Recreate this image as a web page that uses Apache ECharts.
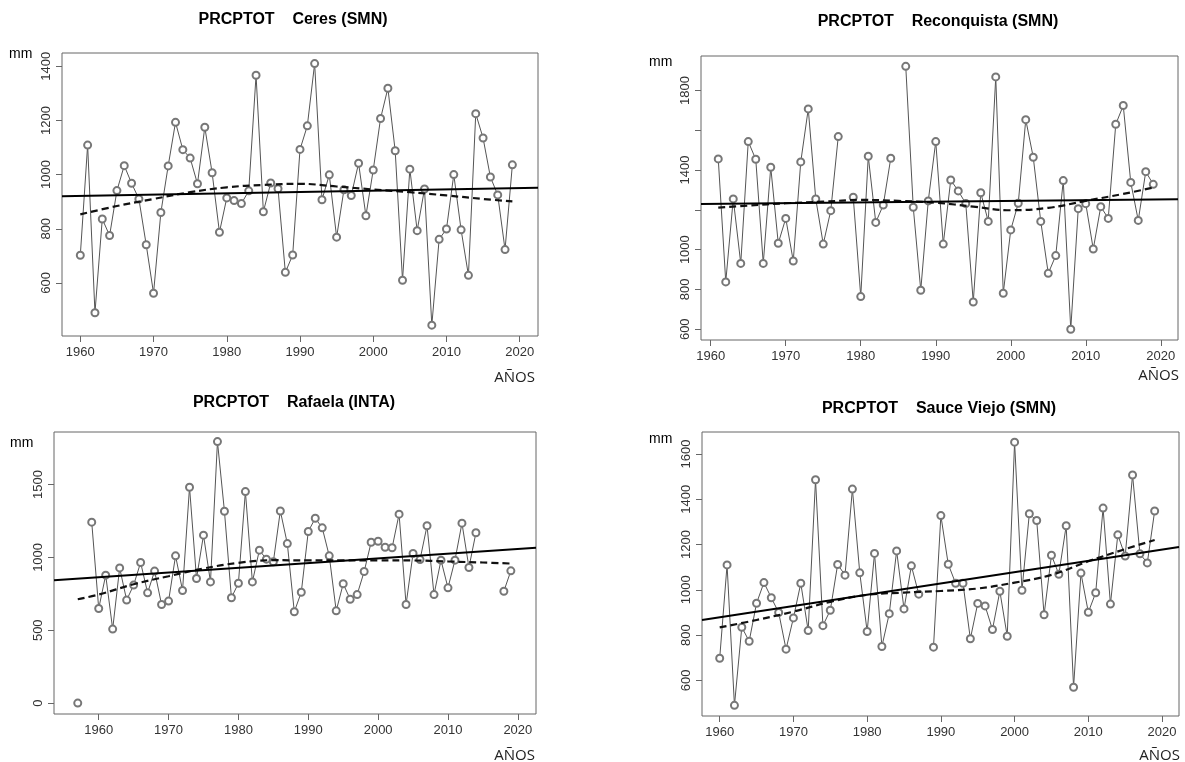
<!DOCTYPE html>
<html><head><meta charset="utf-8">
<script src="https://cdn.jsdelivr.net/npm/echarts@6/dist/echarts.min.js"></script>
<style>html,body{margin:0;padding:0;background:#fff}#c{width:1185px;height:762px}</style>
</head><body><div id="c"></div>
<script>
// ---------- DATA ----------
const xTicks = [1960, 1970, 1980, 1990, 2000, 2010, 2020];

// Ceres (SMN)
const ceresYears = [1960,1961,1962,1963,1964,1965,1966,1967,1968,1969,1970,1971,1972,1973,1974,1975,1976,1977,1978,1979,1980,1981,1982,1983,1984,1985,1986,1987,1988,1989,1990,1991,1992,1993,1994,1995,1996,1997,1998,1999,2000,2001,2002,2003,2004,2005,2006,2007,2008,2009,2010,2011,2012,2013,2014,2015,2016,2017,2018,2019];
const ceresValues = [702,1109,490,836,775,941,1033,968,910,741,562,860,1032,1193,1092,1061,966,1175,1007,787,914,904,893,940,1367,863,969,948,639,703,1093,1180,1410,907,999,769,944,923,1042,848,1017,1207,1319,1088,610,1020,793,947,444,761,799,1000,796,628,1225,1135,991,925,723,1036];
const ceresTrendX = [1957.5, 2022.5];
const ceresTrendY = [920, 951];
const ceresSmoothX = [1960,1965,1970,1975,1980,1985,1990,1995,2000,2005,2010,2015,2019];
const ceresSmoothY = [853,884,910,935,953,962,966,956,945,935,923,910,901];
const ceresYTicks = [600, 800, 1000, 1200, 1400];
const ceresYLabels = [600, 800, 1000, 1200, 1400];

// Reconquista (SMN)
const reconYears = [1961,1962,1963,1964,1965,1966,1967,1968,1969,1970,1971,1972,1973,1974,1975,1976,1977,1978,1979,1980,1981,1982,1983,1984,1985,1986,1987,1988,1989,1990,1991,1992,1993,1994,1995,1996,1997,1998,1999,2000,2001,2002,2003,2004,2005,2006,2007,2008,2009,2010,2011,2012,2013,2014,2015,2016,2017,2018,2019];
const reconValues = [1456,838,1255,931,1543,1454,931,1414,1032,1157,943,1441,1707,1255,1028,1196,1568,null,1263,764,1469,1137,1224,1459,null,1921,1213,796,1245,1543,1028,1350,1295,1232,737,1286,1142,1868,781,1099,1233,1653,1464,1142,881,970,1347,600,1206,1231,1003,1216,1157,1630,1724,1338,1147,1392,1328];
const reconTrendX = [1958.7, 2022.3];
const reconTrendY = [1229, 1253];
const reconSmoothX = [1961,1965,1970,1975,1980,1985,1990,1995,2000,2005,2010,2015,2019];
const reconSmoothY = [1211,1221,1233,1241,1250,1245,1236,1216,1198,1210,1245,1280,1312];
const reconYTicks = [600, 800, 1000, 1200, 1400, 1600, 1800];
const reconYLabels = [600, 800, 1000, 1400, 1800];

// Rafaela (INTA)
const rafYears = [1957,1958,1959,1960,1961,1962,1963,1964,1965,1966,1967,1968,1969,1970,1971,1972,1973,1974,1975,1976,1977,1978,1979,1980,1981,1982,1983,1984,1985,1986,1987,1988,1989,1990,1991,1992,1993,1994,1995,1996,1997,1998,1999,2000,2001,2002,2003,2004,2005,2006,2007,2008,2009,2010,2011,2012,2013,2014,2015,2016,2017,2018,2019];
const rafValues = [0,null,1242,649,878,508,928,707,810,965,757,906,677,700,1011,773,1482,855,1153,832,1795,1317,723,823,1452,832,1050,988,970,1319,1095,627,761,1178,1269,1203,1011,633,819,713,745,903,1104,1111,1070,1066,1297,677,1027,985,1217,745,981,791,981,1235,931,1169,null,null,null,768,908];
const rafTrendX = [1953.6, 2022.6];
const rafTrendY = [844, 1066];
const rafSmoothX = [1957,1960,1965,1970,1975,1980,1985,1990,1995,2000,2005,2010,2015,2019];
const rafSmoothY = [713,745,816,871,924,963,981,979,979,979,979,972,965,958];
const rafYTicks = [0, 500, 1000, 1500];
const rafYLabels = [0, 500, 1000, 1500];

// Sauce Viejo (SMN)
const sauceYears = [1960,1961,1962,1963,1964,1965,1966,1967,1968,1969,1970,1971,1972,1973,1974,1975,1976,1977,1978,1979,1980,1981,1982,1983,1984,1985,1986,1987,1988,1989,1990,1991,1992,1993,1994,1995,1996,1997,1998,1999,2000,2001,2002,2003,2004,2005,2006,2007,2008,2009,2010,2011,2012,2013,2014,2015,2016,2017,2018,2019];
const sauceValues = [698,1110,490,835,773,941,1032,965,900,738,876,1029,820,1486,842,910,1112,1065,1445,1075,816,1161,750,895,1172,916,1106,981,null,747,1328,1113,1029,1029,784,940,929,825,994,795,1652,998,1336,1306,890,1153,1069,1283,570,1074,901,987,1361,937,1243,1149,1507,1159,1119,1348];
const sauceTrendX = [1957.6, 2022.3];
const sauceTrendY = [867, 1189];
const sauceSmoothX = [1960,1965,1970,1975,1980,1985,1990,1995,2000,2005,2010,2015,2019];
const sauceSmoothY = [834,867,904,947,978,988,995,1006,1032,1066,1126,1180,1220];
const sauceYTicks = [600, 800, 1000, 1200, 1400, 1600];
const sauceYLabels = [600, 800, 1000, 1200, 1400, 1600];

// ---------- LAYOUT / STYLE ----------
const panels = [
  {title:'PRCPTOT    Ceres (SMN)', years:ceresYears, values:ceresValues, tx:ceresTrendX, ty:ceresTrendY, sx:ceresSmoothX, sy:ceresSmoothY, yt:ceresYTicks, yl:ceresYLabels,
   grid:{left:62, top:53, width:476, height:283}, xmin:1957.5, xmax:2022.5, ymin:404, ymax:1449,
   titlePos:[293,20], mmPos:[9,54], anosPos:[535,378]},
  {title:'PRCPTOT    Reconquista (SMN)', years:reconYears, values:reconValues, tx:reconTrendX, ty:reconTrendY, sx:reconSmoothX, sy:reconSmoothY, yt:reconYTicks, yl:reconYLabels,
   grid:{left:701, top:56, width:477, height:284}, xmin:1958.7, xmax:2022.3, ymin:546, ymax:1973,
   titlePos:[938,22], mmPos:[649,62], anosPos:[1179,376]},
  {title:'PRCPTOT    Rafaela (INTA)', years:rafYears, values:rafValues, tx:rafTrendX, ty:rafTrendY, sx:rafSmoothX, sy:rafSmoothY, yt:rafYTicks, yl:rafYLabels,
   grid:{left:54, top:432, width:482, height:282}, xmin:1953.6, xmax:2022.6, ymin:-75, ymax:1861,
   titlePos:[294,403], mmPos:[10,443], anosPos:[535,756]},
  {title:'PRCPTOT    Sauce Viejo (SMN)', years:sauceYears, values:sauceValues, tx:sauceTrendX, ty:sauceTrendY, sx:sauceSmoothX, sy:sauceSmoothY, yt:sauceYTicks, yl:sauceYLabels,
   grid:{left:702, top:432, width:477, height:284}, xmin:1957.6, xmax:2022.3, ymin:443, ymax:1697,
   titlePos:[939,409], mmPos:[649,439], anosPos:[1180,756]}
];

const FONT = '"Liberation Sans", Arial, sans-serif';
const grids = [], xAxes = [], yAxes = [], series = [], graphics = [];

panels.forEach((p, i) => {
  grids.push(Object.assign({show:true, borderColor:'#666', borderWidth:1, backgroundColor:'transparent', containLabel:false}, p.grid));
  xAxes.push({
    type:'value', gridIndex:i, min:p.xmin, max:p.xmax,
    axisLine:{show:false, onZero:false}, splitLine:{show:false},
    axisTick:{show:true, inside:false, length:6, lineStyle:{color:'#666', width:1}, customValues:xTicks},
    axisLabel:{show:true, margin:10, fontSize:13, fontFamily:FONT, color:'#333', customValues:xTicks, formatter:v=>String(v)}
  });
  yAxes.push({
    type:'value', gridIndex:i, min:p.ymin, max:p.ymax,
    axisLine:{show:false, onZero:false}, splitLine:{show:false},
    axisTick:{show:true, inside:false, length:6, lineStyle:{color:'#666', width:1}, customValues:p.yt},
    axisLabel:{show:true, margin:9, rotate:90, fontSize:13, fontFamily:FONT, color:'#333', customValues:p.yl, formatter:v=>String(v)}
  });
  series.push({
    type:'line', xAxisIndex:i, yAxisIndex:i, connectNulls:false,
    data:p.years.map((y,k)=>[y, p.values[k]]),
    symbol:'emptyCircle', symbolSize:7, showSymbol:true,
    lineStyle:{color:'#555', width:1},
    itemStyle:{color:'#777', borderColor:'#777', borderWidth:1},
    z:2, silent:true
  });
  series.push({
    type:'line', xAxisIndex:i, yAxisIndex:i, smooth:0.4,
    data:p.sx.map((y,k)=>[y, p.sy[k]]),
    symbol:'none', lineStyle:{color:'#111', width:2.2, type:[7,4]}, z:4, silent:true
  });
  series.push({
    type:'line', xAxisIndex:i, yAxisIndex:i,
    data:p.tx.map((y,k)=>[y, p.ty[k]]),
    symbol:'none', lineStyle:{color:'#000', width:2}, z:5, silent:true
  });
  graphics.push({type:'text', x:p.titlePos[0], y:p.titlePos[1],
    style:{text:p.title, font:'bold 16px ' + FONT, fill:'#000', textAlign:'center', textVerticalAlign:'middle'}});
  graphics.push({type:'text', x:p.mmPos[0], y:p.mmPos[1],
    style:{text:'mm', font:'14px ' + FONT, fill:'#000', textAlign:'left', textVerticalAlign:'middle'}});
  graphics.push({type:'text', x:p.anosPos[0], y:p.anosPos[1],
    style:{text:'AÑOS', font:'15px "Open Sans", sans-serif', fill:'#222', textAlign:'right', textVerticalAlign:'middle'}});
});

const chart = echarts.init(document.getElementById('c'), null, {renderer:'canvas'});
chart.setOption({
  animation:false, backgroundColor:'#fff',
  grid:grids, xAxis:xAxes, yAxis:yAxes, series:series, graphic:graphics
});
</script></body></html>
